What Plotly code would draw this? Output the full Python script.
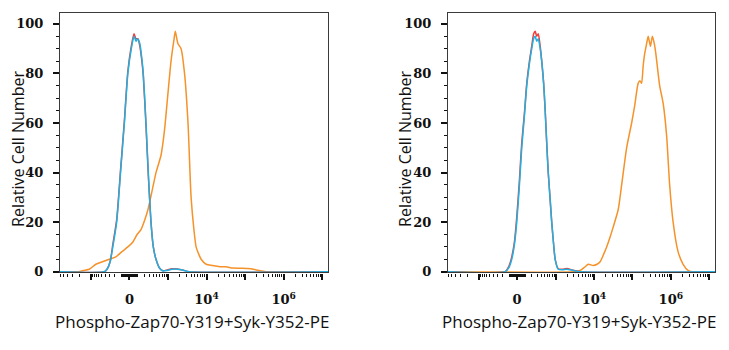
import math
import plotly.graph_objects as go

# ---- data (x in biexponential display units: 0 -> 0, 10^3 -> 1, 10^4 -> 2, ...) ----
left_blue_x = [-1.8, -0.65, -0.58, -0.5, -0.43, -0.33, -0.23, -0.13, -0.04, 0.05, 0.12, 0.17, 0.22, 0.27, 0.33, 0.36, 0.43, 0.49, 0.56, 0.62, 0.69, 0.78, 0.87, 0.98, 1.1, 1.25, 1.4, 1.55, 5.2]
left_blue_y = [0, 0, 1, 4, 10, 20, 40, 60, 80, 90, 95, 93, 94, 92, 85, 80, 60, 40, 20, 10, 5, 1.5, 0.3, 0.5, 1, 1, 0.6, 0, 0]
left_red_x = [-1.8, -0.65, -0.58, -0.5, -0.43, -0.33, -0.23, -0.13, -0.04, 0.05, 0.12, 0.17, 0.22, 0.27, 0.33, 0.36, 0.43, 0.49, 0.56, 0.62, 0.69, 0.78, 0.87, 0.98, 1.1, 1.25, 1.4, 1.55, 5.2]
left_red_y = [0, 0, 1, 4, 11, 21, 41, 61, 81, 91, 96, 94, 94, 91, 84, 79, 59, 39, 20, 10, 5, 1.5, 0.4, 0.7, 1.2, 1.1, 0.6, 0, 0]
left_orange_x = [-1.8, -1.32, -1.2, -1.04, -0.87, -0.7, -0.52, -0.35, -0.2, -0.04, 0.09, 0.2, 0.3, 0.4, 0.48, 0.58, 0.69, 0.82, 0.91, 1.0, 1.08, 1.15, 1.19, 1.23, 1.26, 1.34, 1.43, 1.52, 1.6, 1.68, 1.73, 1.8, 1.86, 1.99, 2.15, 2.34, 2.5, 2.68, 2.85, 3.03, 3.15, 3.29, 3.42, 3.55, 5.2]
left_orange_y = [0, 0, 0.5, 1, 3, 4, 5, 6, 8, 10, 12, 15, 17, 21, 25, 32, 40, 47, 57, 72, 85, 93, 97, 94, 92, 90, 80, 60, 30, 16, 10, 7, 5, 3, 2.5, 2, 2, 1.5, 1.4, 1.3, 1.2, 0.7, 0.3, 0, 0]

right_blue_x = [-1.8, -0.31, -0.22, -0.14, -0.07, -0.01, 0.06, 0.12, 0.19, 0.25, 0.32, 0.38, 0.43, 0.47, 0.51, 0.55, 0.6, 0.64, 0.69, 0.73, 0.77, 0.81, 0.86, 0.9, 0.95, 0.99, 1.07, 1.18, 1.29, 1.46, 1.64, 5.2]
right_blue_y = [0, 0, 1.5, 5, 11, 20, 35, 50, 63, 75, 84, 90, 94, 95, 93, 94, 90, 85, 76, 65, 52, 40, 29, 20, 11, 5, 1, 0.8, 1, 0.5, 0, 0]
right_red_x = [-1.8, -0.31, -0.22, -0.14, -0.07, -0.01, 0.06, 0.12, 0.19, 0.25, 0.32, 0.38, 0.43, 0.47, 0.51, 0.55, 0.6, 0.64, 0.69, 0.73, 0.77, 0.81, 0.86, 0.9, 0.95, 0.99, 1.07, 1.18, 1.29, 1.46, 1.64, 5.2]
right_red_y = [0, 0, 2, 6, 12, 22, 37, 52, 64, 76, 85, 91, 96, 97, 95, 96, 91, 85, 76, 65, 52, 40, 29, 20, 11, 5, 1.2, 1, 1.3, 0.6, 0, 0]
right_orange_x = [-1.8, 1.46, 1.64, 1.77, 1.85, 1.98, 2.08, 2.16, 2.25, 2.33, 2.42, 2.5, 2.63, 2.72, 2.85, 2.98, 3.06, 3.15, 3.2, 3.24, 3.28, 3.32, 3.37, 3.41, 3.44, 3.47, 3.52, 3.57, 3.61, 3.71, 3.8, 3.89, 3.97, 4.06, 4.19, 4.32, 4.45, 4.54, 5.2]
right_orange_y = [0, 0, 0.5, 2, 3, 2.5, 3, 4, 7, 10, 14, 18, 25, 35, 50, 60, 67, 76, 77, 76, 83, 88, 92, 95, 93, 91, 95, 92, 88, 75, 68, 55, 35, 20, 8, 3, 0.5, 0, 0]

major_vals = [-1000, 0, 1e3, 1e4, 1e5, 1e6, 1e7]
label_map = {0: "0", 1e4: "10<sup>4</sup>", 1e6: "10<sup>6</sup>"}
y_major = [0, 20, 40, 60, 80, 100]

COLOR_RED = "#ec3f3a"
COLOR_BLUE = "#1fb0e2"
COLOR_ORANGE = "#f5922a"


def disp(v):
    return math.asinh(v / 200.0) / math.log(10)


minor_raw = []
for s in (1, -1):
    for k in range(1, 10):
        minor_raw.append(s * k * 10)
        minor_raw.append(s * k * 100)
for k in range(2, 10):
    minor_raw.append(-k * 1000)
    for e in range(3, 7):
        minor_raw.append(k * 10 ** e)
minor_t = [disp(v) for v in minor_raw]
major_t = [disp(v) for v in major_vals]
major_txt = [label_map.get(v, "") for v in major_vals]

fig = go.Figure()
series = [
    ("x", "y", left_orange_x, left_orange_y, COLOR_ORANGE),
    ("x", "y", left_red_x, left_red_y, COLOR_RED),
    ("x", "y", left_blue_x, left_blue_y, COLOR_BLUE),
    ("x2", "y2", right_orange_x, right_orange_y, COLOR_ORANGE),
    ("x2", "y2", right_red_x, right_red_y, COLOR_RED),
    ("x2", "y2", right_blue_x, right_blue_y, COLOR_BLUE),
]
for xa, ya, xs, ys, c in series:
    fig.add_trace(go.Scatter(x=xs, y=ys, xaxis=xa, yaxis=ya, mode="lines",
                             line=dict(color=c, width=1.5, shape="spline", smoothing=0.6),
                             showlegend=False, hoverinfo="skip"))

tickfont = dict(family="DejaVu Serif", size=13, color="#111", weight="bold")
frame = "#3a3a3a"


def xaxis(domain, anchor):
    return dict(domain=domain, anchor=anchor, range=[-1.8, 5.15],
                tickmode="array", tickvals=major_t, ticktext=major_txt,
                ticks="outside", ticklen=6, tickwidth=1.5, tickcolor="#111",
                minor=dict(tickmode="array", tickvals=minor_t, ticks="outside",
                           ticklen=3, tickwidth=1, tickcolor="#111"),
                showline=True, linecolor=frame, linewidth=1.2, mirror=True,
                showgrid=False, zeroline=False, tickfont=tickfont,
                ticklabelstandoff=9)


def yaxis(anchor):
    return dict(domain=[0.2057, 0.9629], anchor=anchor, range=[-0.3, 104.5],
                tickmode="array", tickvals=y_major,
                ticks="outside", ticklen=6, tickwidth=1.5, tickcolor="#111",
                minor=dict(dtick=5, tick0=0, ticks="outside", ticklen=3,
                           tickwidth=1, tickcolor="#111"),
                showline=True, linecolor=frame, linewidth=1.2, mirror=True,
                showgrid=False, zeroline=False, tickfont=tickfont,
                ticklabelstandoff=7)


fig.update_layout(
    width=729, height=350, margin=dict(l=0, r=0, t=0, b=0),
    paper_bgcolor="white", plot_bgcolor="white",
    xaxis=xaxis([0.0823, 0.4499], "y"),
    yaxis=yaxis("x"),
    xaxis2=xaxis([0.6145, 0.9808], "y2"),
    yaxis2=yaxis("x2"),
)

xtitle_font = dict(family="Open Sans", size=17, color="#111")
ytitle_font = dict(family="Open Sans", size=16, color="#111")
xt = "Phospho-Zap70-Y319+Syk-Y352-PE"
for cx, ycx in ((192 / 729, 18 / 729), (579 / 729, 405 / 729)):
    fig.add_annotation(text=xt, x=cx, y=1 - 328 / 350, xref="paper", yref="paper",
                       showarrow=False, font=xtitle_font, xanchor="center", yanchor="middle")
    fig.add_annotation(text="Relative Cell Number", x=ycx, y=1 - 152 / 350, xref="paper", yref="paper",
                       showarrow=False, font=ytitle_font, textangle=-90,
                       xanchor="center", yanchor="middle")

fig.write_html("out.html")
